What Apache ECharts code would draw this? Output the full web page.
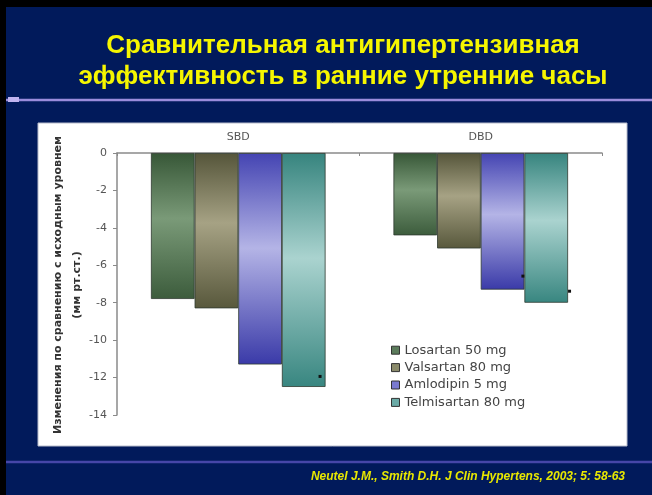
<!DOCTYPE html>
<html>
<head>
<meta charset="utf-8">
<script src="https://cdn.jsdelivr.net/npm/echarts@6/dist/echarts.min.js"></script>
<style>
  html, body { margin: 0; padding: 0; background: #000; }
  #chart { width: 652px; height: 495px; }
</style>
</head>
<body>
<div id="chart"></div>
<script>
// Blood pressure change from baseline in the early morning hours (mm Hg)
const categories = ['SBD', 'DBD'];
const seriesNames = ['Losartan 50 mg', 'Valsartan 80 mg', 'Amlodipin 5 mg', 'Telmisartan 80 mg'];
const losartan = [-7.8, -4.4];
const valsartan = [-8.3, -5.1];
const amlodipin = [-11.3, -7.3];
const telmisartan = [-12.5, -8.0];
// significance markers (dot near the bar end)
const amlodipinMarked = [false, true];
const telmisartanMarked = [true, true];
const yTicks = { min: -14, max: 0, step: 2 };

const titleLines = ['Сравнительная антигипертензивная', 'эффективность в ранние утренние часы'];
const yName = 'Изменения по сравнению с исходным уровнем\n(мм рт.ст.)';
const citation = 'Neutel J.M., Smith D.H. J Clin Hypertens, 2003; 5: 58-63';

// top, middle, bottom gradient shades per drug; legend swatch colour
const palette = [
  { top: '#375737', mid: '#7a9a78', bot: '#3c5c3c', swatch: '#5b7b5b' },
  { top: '#55553a', mid: '#a6a284', bot: '#58583c', swatch: '#8a8a6a' },
  { top: '#4444b2', mid: '#b4b4e6', bot: '#3a3aa8', swatch: '#7a7ad0' },
  { top: '#36847e', mid: '#aad3cf', bot: '#388680', swatch: '#6aaaa6' }
];

function grad(p) {
  return {
    type: 'linear', x: 0, y: 0, x2: 0, y2: 1,
    colorStops: [
      { offset: 0, color: p.top },
      { offset: 0.45, color: p.mid },
      { offset: 1, color: p.bot }
    ]
  };
}

function dotLabel(offset) {
  return {
    show: true,
    position: 'insideBottomRight',
    distance: 0,
    offset: offset,
    formatter: '{d|}',
    rich: { d: { width: 3, height: 3, backgroundColor: '#111' } }
  };
}

function withMarks(values, marks, offsets) {
  return values.map((v, i) => marks[i] ? { value: v, label: dotLabel(offsets[i]) } : v);
}

const valueSets = [
  losartan,
  valsartan,
  withMarks(amlodipin, amlodipinMarked, [[0, -12], [0, -12]]),
  withMarks(telmisartan, telmisartanMarked, [[-4, -9], [3, -10]])
];

const chart = echarts.init(document.getElementById('chart'), null, { renderer: 'canvas' });

const titleFont = 'bold 26px "Liberation Sans", Arial, sans-serif';

chart.setOption({
  backgroundColor: '#011a5b',
  animation: false,
  graphic: [
    // frame edges
    { type: 'rect', shape: { x: 0, y: 0, width: 652, height: 7 }, style: { fill: '#000' }, z: 10 },
    { type: 'rect', shape: { x: 0, y: 0, width: 6, height: 495 }, style: { fill: '#000' }, z: 10 },
    // title
    { type: 'text', x: 343, y: 46, style: { text: titleLines[0], fill: '#f6f600', font: titleFont, align: 'center', verticalAlign: 'middle' } },
    { type: 'text', x: 343, y: 77, style: { text: titleLines[1], fill: '#f6f600', font: titleFont, align: 'center', verticalAlign: 'middle' } },
    // rule under the title
    { type: 'line', shape: { x1: 6, y1: 100, x2: 652, y2: 100 }, style: { stroke: '#9a8cdc', lineWidth: 2.5 } },
    { type: 'rect', shape: { x: 8, y: 97, width: 11, height: 5 }, style: { fill: '#c0b4f0' } },
    // chart panel
    { type: 'rect', shape: { x: 38, y: 123, width: 589, height: 323 }, style: { fill: '#ffffff', stroke: '#b8bccc', lineWidth: 1 }, z: -1 },
    // value axis title, rotated
    { type: 'text', x: 67.5, y: 285, rotation: Math.PI / 2, z: 5,
      style: { text: yName, fill: '#333', font: 'bold 11px "DejaVu Sans", sans-serif', lineHeight: 19, align: 'center', verticalAlign: 'middle' } },
    // footer rule and citation
    { type: 'line', shape: { x1: 6, y1: 462, x2: 652, y2: 462 }, style: { stroke: '#4646a8', lineWidth: 2.5 } },
    { type: 'text', x: 625, y: 477, style: { text: citation, fill: '#e8e800', font: 'italic bold 12px "Liberation Sans", Arial, sans-serif', align: 'right', verticalAlign: 'middle' } }
  ],
  grid: { left: 117, right: 50, top: 153, bottom: 80 },
  legend: {
    orient: 'vertical',
    left: 386,
    top: 338,
    itemWidth: 8,
    itemHeight: 8,
    itemGap: 3,
    icon: 'rect',
    textStyle: { fontFamily: 'DejaVu Sans', fontSize: 13, color: '#444', lineHeight: 14.4 },
    data: seriesNames.map((n, i) => ({ name: n, itemStyle: { color: palette[i].swatch, borderColor: '#333', borderWidth: 1 } }))
  },
  xAxis: {
    type: 'category',
    position: 'top',
    data: categories,
    axisLine: { lineStyle: { color: '#8a8a8a', width: 1.5 } },
    axisTick: { show: true, inside: true, length: 3, lineStyle: { color: '#8a8a8a' } },
    axisLabel: { fontFamily: 'DejaVu Sans', fontSize: 11, color: '#555', margin: 10 }
  },
  yAxis: {
    type: 'value',
    min: yTicks.min,
    max: yTicks.max,
    interval: yTicks.step,
    axisLine: { show: true, lineStyle: { color: '#8a8a8a', width: 1.5 } },
    axisTick: { show: true, length: 4, lineStyle: { color: '#8a8a8a' } },
    splitLine: { show: false },
    axisLabel: { fontFamily: 'DejaVu Sans', fontSize: 11, color: '#555', margin: 10 }
  },
  series: seriesNames.map((n, i) => ({
    name: n,
    type: 'bar',
    data: valueSets[i],
    barGap: '0%',
    barCategoryGap: '28%',
    itemStyle: { color: grad(palette[i]), borderColor: '#2e3a30', borderWidth: 0.8 }
  }))
});
</script>
</body>
</html>
